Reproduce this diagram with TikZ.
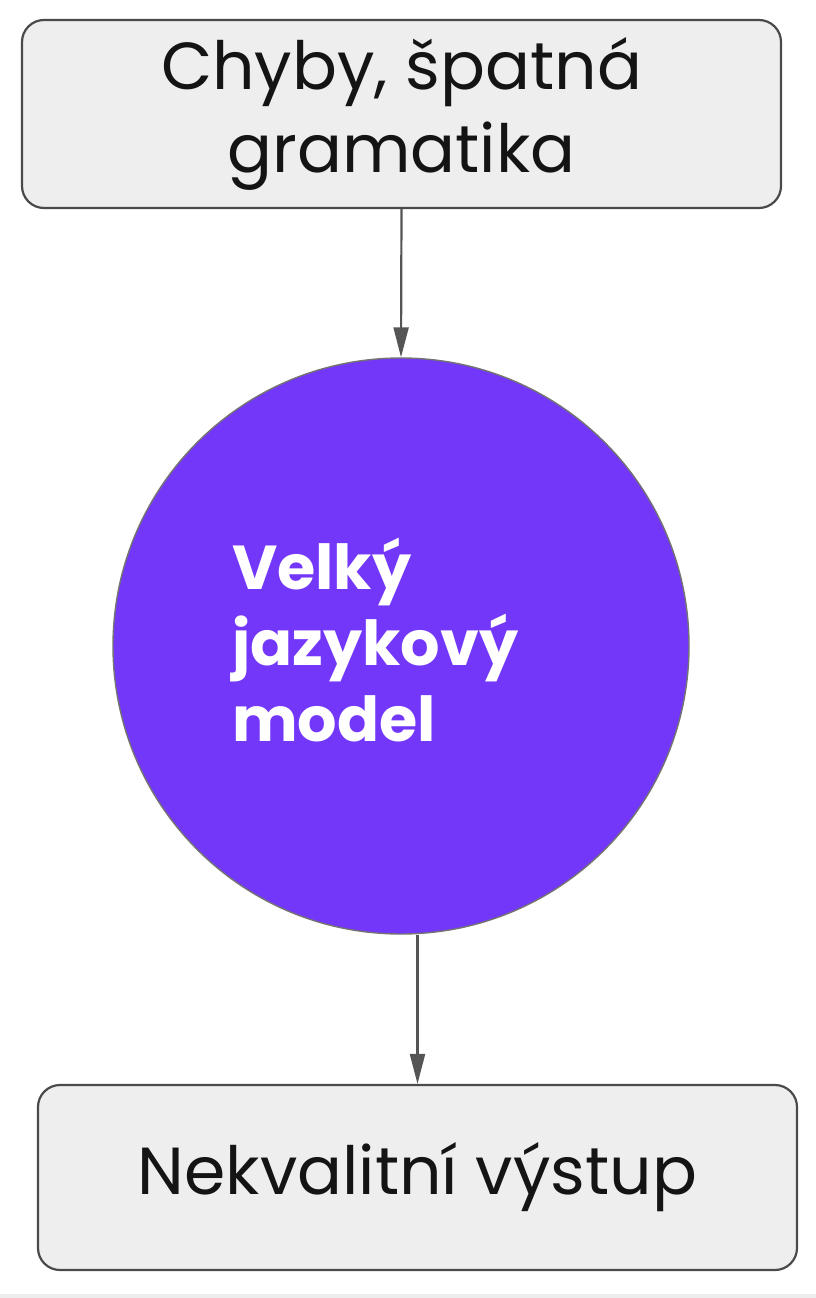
\documentclass[tikz,border=0pt]{standalone}
\usepackage{fontspec}
\setmainfont{Poppins}
\usetikzlibrary{arrows.meta}
\definecolor{boxfill}{HTML}{EEEEEE}
\definecolor{boxline}{HTML}{4A4A4A}
\definecolor{arrline}{HTML}{555555}
\definecolor{llm}{HTML}{7337FA}
\definecolor{band}{HTML}{EDEDED}
\tikzset{
  x=1pt, y=-1pt,
  graybox/.style={draw=boxline, line width=2.2pt, fill=boxfill, rounded corners=22pt,
    inner sep=0pt, align=center, font=\fontsize{66.5}{83}\selectfont, text=black!92},
  llmcircle/.style={circle, draw=black!55, line width=1.4pt, fill=llm, inner sep=0pt},
  llmtext/.style={text=white, align=left, inner sep=0pt,
    font=\bfseries\fontsize{62}{76}\selectfont},
  arr/.style={draw=arrline, line width=2.2pt, -{Triangle[length=30pt,width=15pt]}},
}
\begin{document}
\begin{tikzpicture}
\useasboundingbox[fill=white] (0,0) rectangle (816,1298);
\fill[band] (0,1294) rectangle (816,1298);
\node[graybox, minimum width=759pt, minimum height=188pt] (top) at (401.5,114)
  {Chyby, špatná\\gramatika};
\node[llmcircle, minimum size=576pt] (circ) at (401,646) {};
\node[llmtext, anchor=west] (circtext) at (232,640) {Velký\\jazykový\\model};
\node[graybox, minimum width=759pt, minimum height=185pt] (bot) at (417.5,1177.5)
  {Nekvalitní výstup};
\draw[arr] (top.south) -- (circ.north);
\draw[arr] (bot.north |- circ.south) -- (bot.north);
\end{tikzpicture}
\end{document}
